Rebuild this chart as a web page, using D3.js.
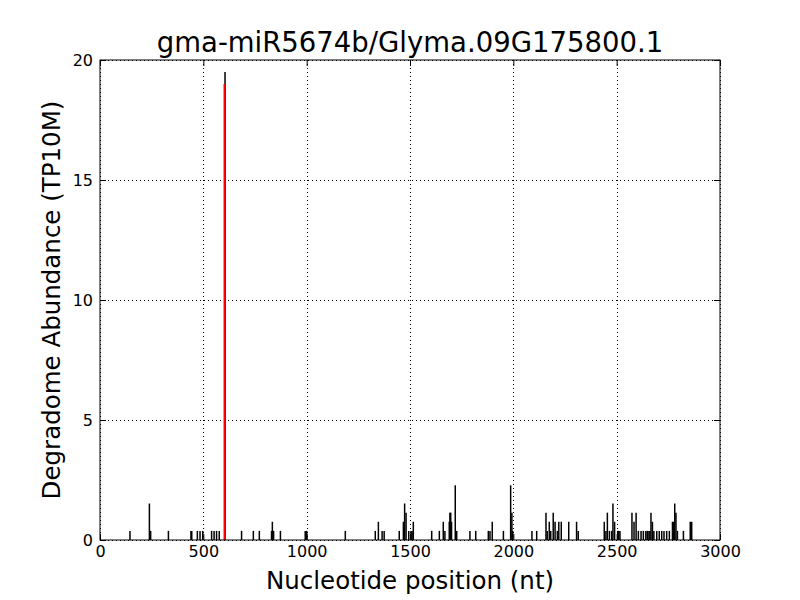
<!DOCTYPE html>
<html>
<head>
<meta charset="utf-8">
<script src="https://cdn.jsdelivr.net/npm/d3@7"></script>
<style>
  body { margin: 0; background: #fff; }
  svg { font-family: "DejaVu Sans", sans-serif; }
</style>
</head>
<body>
<svg id="chart" width="800" height="600"></svg>
<script>
// chart title and axis labels
var title = "gma-miR5674b/Glyma.09G175800.1";
var xLabel = "Nucleotide position (nt)";
var yLabel = "Degradome Abundance (TP10M)";

var xTicks = [0, 500, 1000, 1500, 2000, 2500, 3000];
var yTicks = [0, 5, 10, 15, 20];

// degradome tags: position (nt) and abundance (TP10M)
var positions = [145, 239, 245, 331, 440, 444, 471, 484, 497, 540, 552, 564, 577, 605,
  685, 742, 771, 830, 834, 840, 873, 993, 1000,
  1187, 1332, 1347, 1365, 1375, 1448, 1468, 1474, 1481, 1494, 1505, 1510, 1516,
  1605, 1642, 1661, 1669, 1690, 1693, 1697, 1701, 1719, 1726, 1790, 1818, 1879, 1887, 1898,
  1952, 1987, 1993, 1997,
  2090, 2113, 2158, 2164, 2174, 2181, 2193, 2202, 2213, 2220, 2232, 2268, 2306, 2314,
  2440, 2448, 2455, 2465, 2476, 2482, 2490, 2505, 2510, 2516,
  2574, 2584, 2594, 2605, 2618, 2629, 2641, 2648, 2656, 2661, 2666, 2673, 2680, 2694,
  2706, 2718, 2729, 2742, 2755, 2770, 2774, 2781, 2787, 2794, 2823, 2856, 2863];
var abundance = [0.38, 1.52, 0.38, 0.38, 0.38, 0.38, 0.38, 0.38, 0.38, 0.38, 0.38, 0.38, 0.38, 19.5,
  0.38, 0.38, 0.38, 0.38, 0.76, 0.38, 0.38, 0.38, 0.38,
  0.38, 0.38, 0.76, 0.38, 0.38, 0.38, 0.76, 1.52, 1.14, 0.38, 0.38, 0.38, 0.76,
  0.38, 0.38, 0.76, 0.38, 0.76, 1.14, 1.14, 0.76, 2.28, 0.38, 0.38, 0.38, 0.38, 0.38, 0.76,
  0.38, 2.28, 1.14, 0.38,
  0.38, 0.38, 1.14, 0.38, 0.76, 0.38, 1.14, 0.76, 0.38, 0.76, 0.76, 0.76, 0.76, 0.38,
  0.76, 0.38, 1.14, 0.38, 0.38, 1.52, 0.76, 0.38, 0.38, 0.38,
  1.14, 0.76, 1.14, 0.38, 0.38, 0.38, 0.38, 0.38, 0.38, 0.38, 1.14, 0.76, 0.38, 0.38,
  0.38, 0.38, 0.38, 0.38, 0.38, 0.76, 0.76, 1.52, 1.14, 0.38, 0.38, 0.76, 0.76];

// predicted cleavage site
var sitePos = [605];
var siteVal = [19.0];

var margin = {left: 100, right: 80, top: 60, bottom: 60};
var width = 800 - margin.left - margin.right;
var height = 600 - margin.top - margin.bottom;

var svg = d3.select("#chart");
var g = svg.append("g").attr("transform", "translate(" + margin.left + "," + margin.top + ")");

var x = d3.scaleLinear().domain([0, 3000]).range([0, width]);
var y = d3.scaleLinear().domain([0, 20]).range([height, 0]);

// dotted grid
g.selectAll(".gx").data(xTicks).enter().append("line")
    .attr("x1", function (d) { return Math.round(x(d)) + 0.5; })
    .attr("x2", function (d) { return Math.round(x(d)) + 0.5; })
    .attr("y1", 0).attr("y2", height)
    .style("stroke", "#000").style("stroke-width", 1).style("stroke-dasharray", "1,3");
g.selectAll(".gy").data(yTicks).enter().append("line")
    .attr("y1", function (d) { return Math.round(y(d)) + 0.5; })
    .attr("y2", function (d) { return Math.round(y(d)) + 0.5; })
    .attr("x1", 0).attr("x2", width)
    .style("stroke", "#000").style("stroke-width", 1).style("stroke-dasharray", "1,3");

// tag bars
var tags = positions.map(function (p, i) { return {pos: p, val: abundance[i]}; });
g.selectAll(".tag").data(tags).enter().append("line")
    .attr("class", "tag")
    .attr("x1", function (d) { return x(d.pos); })
    .attr("x2", function (d) { return x(d.pos); })
    .attr("y1", y(0))
    .attr("y2", function (d) { return y(d.val); })
    .style("stroke", "#000").style("stroke-width", 1.5);

// cleavage site
var sites = sitePos.map(function (p, i) { return {pos: p, val: siteVal[i]}; });
g.selectAll(".site").data(sites).enter().append("line")
    .attr("class", "site")
    .attr("x1", function (d) { return x(d.pos) - 0.5; })
    .attr("x2", function (d) { return x(d.pos) - 0.5; })
    .attr("y1", y(0))
    .attr("y2", function (d) { return y(d.val); })
    .style("stroke", "#ff0000").style("stroke-width", 2);

// axes, ticks pointing inwards, mirrored on top and right
g.append("g").attr("transform", "translate(0," + height + ")")
    .call(d3.axisBottom(x).tickValues(xTicks).tickFormat(d3.format("d"))
        .tickSizeInner(-6).tickSizeOuter(0).tickPadding(6));
g.append("g")
    .call(d3.axisLeft(y).tickValues(yTicks).tickFormat(d3.format("d"))
        .tickSizeInner(-6).tickSizeOuter(0).tickPadding(7));
g.append("g")
    .call(d3.axisTop(x).tickValues(xTicks).tickSizeInner(-6).tickSizeOuter(0).tickFormat(""));
g.append("g").attr("transform", "translate(" + width + ",0)")
    .call(d3.axisRight(y).tickValues(yTicks).tickSizeInner(-6).tickSizeOuter(0).tickFormat(""));

g.selectAll(".domain").remove();
g.selectAll(".tick line").style("stroke", "#000");
g.selectAll(".tick text").style("font-size", "16px").style("fill", "#000")
    .style("font-family", "DejaVu Sans");

// frame
g.append("rect").attr("x", 0).attr("y", 0).attr("width", width).attr("height", height)
    .style("fill", "none").style("stroke", "#000").style("stroke-width", 1);

// labels
svg.append("text").attr("x", margin.left + width / 2).attr("y", 52)
    .attr("text-anchor", "middle").style("font-size", "27.5px").text(title);
svg.append("text").attr("x", margin.left + width / 2).attr("y", 589)
    .attr("text-anchor", "middle").style("font-size", "24.5px").text(xLabel);
svg.append("text").attr("transform", "translate(60," + (margin.top + height / 2) + ") rotate(-90)")
    .attr("text-anchor", "middle").style("font-size", "24.5px").text(yLabel);
</script>
</body>
</html>
